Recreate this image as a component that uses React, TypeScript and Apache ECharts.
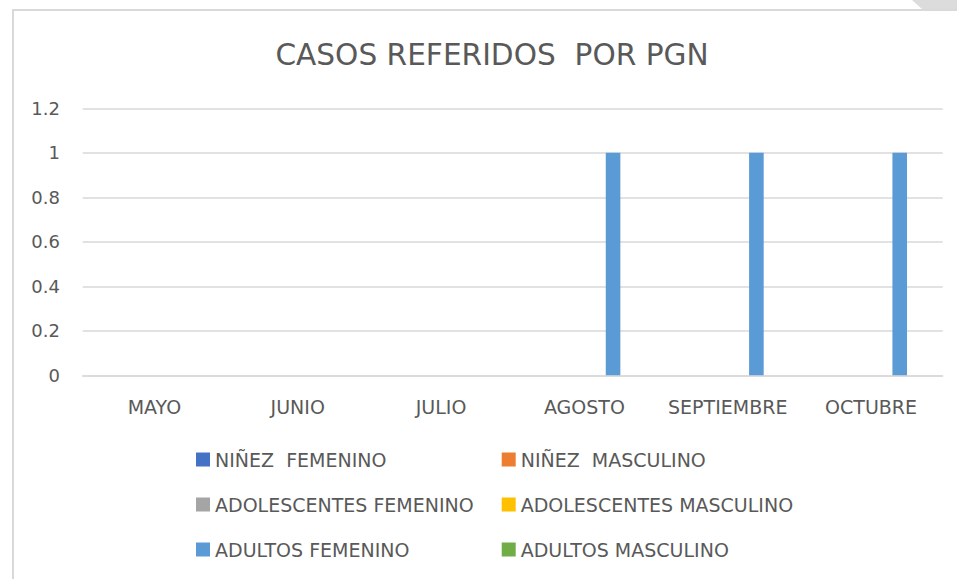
import React, { useEffect, useRef } from "react";
import * as echarts from "echarts";

const categories = ["MAYO", "JUNIO", "JULIO", "AGOSTO", "SEPTIEMBRE", "OCTUBRE"];
const seriesNames = [
  "NIÑEZ  FEMENINO",
  "NIÑEZ  MASCULINO",
  "ADOLESCENTES FEMENINO",
  "ADOLESCENTES MASCULINO",
  "ADULTOS FEMENINO",
  "ADULTOS MASCULINO",
];
const ninezFemenino = [0, 0, 0, 0, 0, 0];
const ninezMasculino = [0, 0, 0, 0, 0, 0];
const adolescentesFemenino = [0, 0, 0, 0, 0, 0];
const adolescentesMasculino = [0, 0, 0, 0, 0, 0];
const adultosFemenino = [0, 0, 0, 1, 1, 1];
const adultosMasculino = [0, 0, 0, 0, 0, 0];
const seriesColors = ["#4472C4", "#ED7D31", "#A5A5A5", "#FFC000", "#5B9BD5", "#70AD47"];
const yTicks = { min: 0, max: 1.2, interval: 0.2 };
const titleText = "CASOS REFERIDOS  POR PGN";

const FONT = "DejaVu Sans";
const TXT = "#595959";

export default function App() {
  const ref = useRef<HTMLDivElement>(null);
  useEffect(() => {
    if (!ref.current) return;
    const chart = echarts.init(ref.current, null, { renderer: "svg" });
    const values = [
      ninezFemenino,
      ninezMasculino,
      adolescentesFemenino,
      adolescentesMasculino,
      adultosFemenino,
      adultosMasculino,
    ];
    const legendCommon = {
      orient: "vertical",
      top: 450,
      padding: 0,
      itemWidth: 14,
      itemHeight: 14,
      itemGap: 26,
      icon: "rect",
      textStyle: { color: TXT, fontFamily: FONT, fontSize: 19 },
    };
    chart.setOption({
      animation: false,
      backgroundColor: "#ffffff",
      grid: { left: 82.7, right: 14.3, top: 108.3, bottom: 203.7, containLabel: false },
      xAxis: {
        type: "category",
        data: categories,
        axisLine: { show: true, lineStyle: { color: "#d9d9d9", width: 1.5 } },
        axisTick: { show: false },
        axisLabel: { color: TXT, fontFamily: FONT, fontSize: 19, margin: 22, interval: 0 },
        splitLine: { show: false },
      },
      yAxis: {
        type: "value",
        min: yTicks.min,
        max: yTicks.max,
        interval: yTicks.interval,
        axisLine: { show: false },
        axisTick: { show: false },
        axisLabel: { color: TXT, fontFamily: FONT, fontSize: 18, margin: 22.7 },
        splitLine: { show: true, lineStyle: { color: "#d9d9d9", width: 1.5 } },
      },
      legend: [
        { ...legendCommon, left: 196, data: [seriesNames[0], seriesNames[2], seriesNames[4]] },
        { ...legendCommon, left: 501.7, data: [seriesNames[1], seriesNames[3], seriesNames[5]] },
      ],
      graphic: [
        {
          type: "polygon",
          shape: { points: [[912, 0], [957, 0], [957, 9], [922, 9]] },
          style: { fill: "#dcdcdc" },
          silent: true,
        },
        {
          type: "line",
          shape: { x1: 12, y1: 10, x2: 957, y2: 10 },
          style: { stroke: "#d9d9d9", lineWidth: 2 },
          silent: true,
        },
        {
          type: "line",
          shape: { x1: 13, y1: 9, x2: 13, y2: 579 },
          style: { stroke: "#d9d9d9", lineWidth: 2 },
          silent: true,
        },
        {
          type: "text",
          x: 492,
          y: 55,
          style: {
            text: titleText,
            fill: TXT,
            fontFamily: FONT,
            fontSize: 29.6,
            textAlign: "center",
            textVerticalAlign: "middle",
          },
          silent: true,
        },
      ],
      series: seriesNames.map((name, i) => ({
        name,
        type: "bar",
        data: values[i],
        barWidth: 14.6,
        barGap: "31%",
        itemStyle: { color: seriesColors[i] },
      })),
    });
    return () => chart.dispose();
  }, []);
  return (
    <div
      ref={ref}
      style={{ position: "fixed", left: 0, top: 0, width: 957, height: 579 }}
    />
  );
}
